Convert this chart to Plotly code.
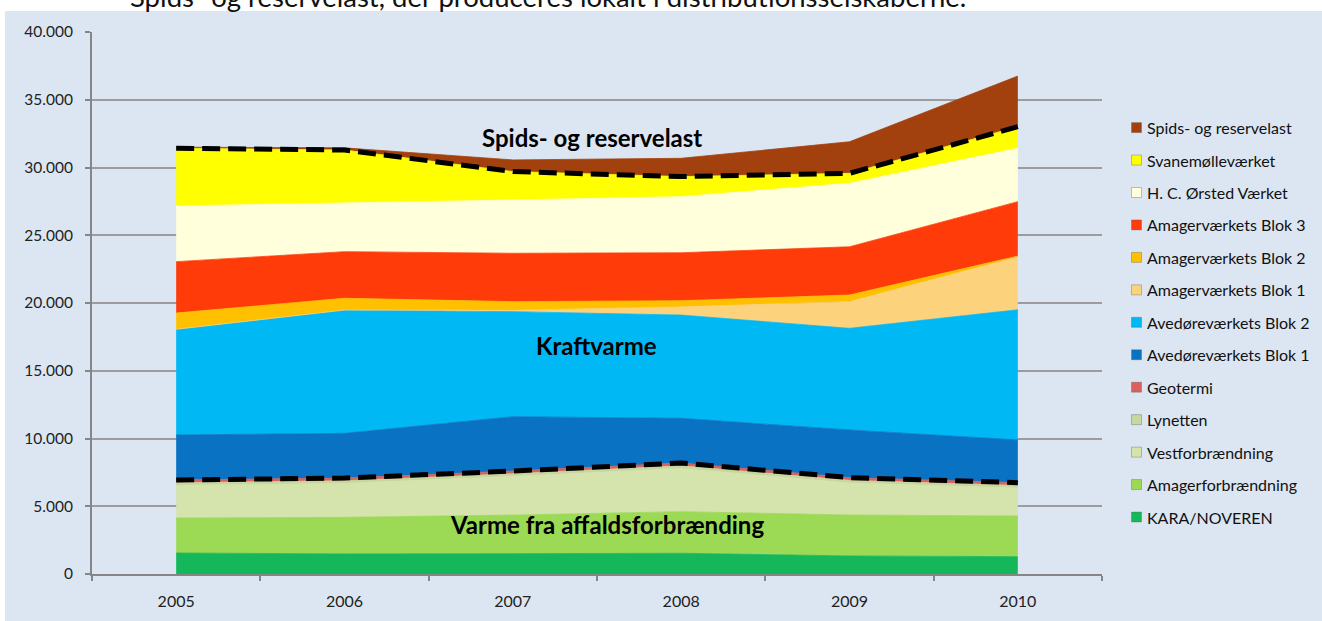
import plotly.graph_objects as go

years = ["2005", "2006", "2007", "2008", "2009", "2010"]

# stacking order bottom -> top
series_names = [
    "KARA/NOVEREN", "Amagerforbrændning", "Vestforbrændning", "Lynetten", "Geotermi",
    "Avedøreværkets Blok 1", "Avedøreværkets Blok 2", "Amagerværkets Blok 1",
    "Amagerværkets Blok 2", "Amagerværkets Blok 3", "H. C. Ørsted Værket",
    "Svanemølleværket", "Spids- og reservelast",
]
kara = [1550, 1480, 1500, 1530, 1330, 1280]
amagerforb = [2580, 2700, 2850, 3070, 3020, 3000]
vestforb = [2410, 2500, 2850, 3190, 2360, 2060]
lynetten = [200, 200, 200, 200, 200, 200]
geotermi = [200, 200, 200, 200, 200, 200]
avedore1 = [3320, 3300, 4010, 3300, 3520, 3150]
avedore2 = [7800, 9100, 7750, 7620, 7500, 9610]
amager1 = [0, 0, 100, 600, 1970, 3900]
amager2 = [1200, 870, 640, 460, 490, 60]
amager3 = [3790, 3440, 3570, 3540, 3560, 4020]
hcorsted = [4110, 3570, 3930, 4140, 4680, 3940]
svanemolle = [4260, 3930, 2100, 1480, 740, 1590]
spids = [80, 160, 860, 1350, 2330, 3740]

series_values = [kara, amagerforb, vestforb, lynetten, geotermi, avedore1, avedore2,
                 amager1, amager2, amager3, hcorsted, svanemolle, spids]
colors = ["#14B85A", "#9CD955", "#D5E3AC", "#C6D89E", "#D9605C", "#0A72C2", "#00B8F4",
          "#FCD27C", "#FFC000", "#FF3B0A", "#FFFFDC", "#FFFF00", "#A3410E"]

labels = ["Spids- og reservelast", "Kraftvarme", "Varme fra affaldsforbrænding"]
top_text = "Spids- og reservelast, der produceres lokalt i distributionsselskaberne."

# pixel geometry of plot area
W, H = 1322, 621
L, R, T, B = 92, 1102, 32, 574
def px(xp):
    return (xp - L) / (R - L)
def py(yp):
    return (B - yp) / (B - T)

fig = go.Figure()
for name, vals, col in zip(series_names, series_values, colors):
    fig.add_trace(go.Scatter(
        x=years, y=vals, name=name, stackgroup="one", mode="lines",
        line=dict(width=0.8, color=col), fillcolor=col, showlegend=False,
        hoverinfo="x+y+name"))

# dashed boundary lines: cumulative sums through Geotermi and Svanemølle
def cum_through(idx):
    return [sum(series_values[k][i] for k in range(idx + 1)) for i in range(len(years))]

for idx in (4, 11):
    fig.add_trace(go.Scatter(x=years, y=cum_through(idx), mode="lines",
                             line=dict(color="black", width=5, dash="18px,8px"),
                             showlegend=False, hoverinfo="skip"))

shapes = [dict(type="rect", xref="paper", yref="paper", layer="below",
               x0=px(5), x1=px(W + 5), y0=py(H + 5), y1=py(11),
               fillcolor="#DCE6F2", line=dict(width=0))]
annotations = []

# manual legend (top entry first)
leg_top = 127.6
leg_step = 32.45
for j, (name, col) in enumerate(zip(series_names[::-1], colors[::-1])):
    yc = leg_top + j * leg_step
    shapes.append(dict(type="rect", xref="paper", yref="paper",
                       x0=px(1131.5), x1=px(1141.5), y0=py(yc + 5), y1=py(yc - 5),
                       fillcolor=col, line=dict(width=0.6, color="rgba(90,90,90,0.6)")))
    annotations.append(dict(xref="paper", yref="paper", x=px(1145), y=py(yc),
                            xanchor="left", yanchor="middle", showarrow=False, text=name,
                            font=dict(family="Lato", size=16, color="#111")))

# in-chart labels
for text, xp, yp in zip(labels, [592, 596, 607], [137, 345, 524]):
    annotations.append(dict(xref="paper", yref="paper", x=px(xp), y=py(yp),
                            xanchor="center", yanchor="middle", showarrow=False,
                            text="<b>" + text + "</b>",
                            font=dict(family="Lato", size=24, color="black")))

annotations.append(dict(xref="paper", yref="paper", x=px(128), y=py(-4),
                        xanchor="left", yanchor="middle", showarrow=False, text=top_text,
                        font=dict(family="Lato", size=27.5, color="#111")))

fig.update_layout(
    width=W, height=H,
    margin=dict(l=L, r=W - R, t=T, b=H - B, pad=0),
    paper_bgcolor="white", plot_bgcolor="rgba(0,0,0,0)",
    separators=",.",
    showlegend=False,
    shapes=shapes, annotations=annotations,
    font=dict(family="Lato", size=15.5, color="#222"),
    xaxis=dict(type="category", range=[-0.5, 5.5], tickson="boundaries",
               ticks="outside", ticklen=5, tickcolor="#868686", tickwidth=1.5,
               showline=True, linecolor="#868686", linewidth=2, showgrid=False,
               ticklabelstandoff=12, tickfont=dict(family="Lato", size=16, color="#222"),
               fixedrange=True),
    yaxis=dict(range=[0, 40000], dtick=5000, tickformat=",d",
               ticks="outside", ticklen=5, tickcolor="#868686", tickwidth=1.5,
               showline=True, linecolor="#868686", linewidth=2,
               showgrid=True, gridcolor="#9C9C9C", gridwidth=1.5, zeroline=False,
               ticklabelstandoff=9, tickfont=dict(family="Lato", size=15.5, color="#222"),
               fixedrange=True),
)

fig.write_html("out.html", config={"displayModeBar": False},
               post_script="document.body.style.margin='0';")
